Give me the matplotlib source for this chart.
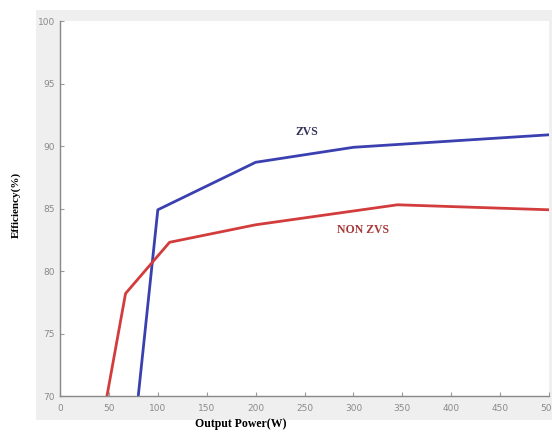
import matplotlib
matplotlib.use("Agg")
import matplotlib.pyplot as plt
from matplotlib.patches import Rectangle

# Datos
potencia_zvs = [80, 100, 200, 300, 400, 500]
eficiencia_zvs = [70, 84.9, 88.7, 89.9, 90.4, 90.9]

potencia_non_zvs = [48, 67, 112, 200, 345, 500]
eficiencia_non_zvs = [70, 78.2, 82.3, 83.7, 85.3, 84.9]

x_ticks = list(range(0, 501, 50))
y_ticks = list(range(70, 101, 5))

fig = plt.figure(figsize=(5.52, 4.36), dpi=100, facecolor="white")

# marco gris tipo ventana de MATLAB
fig.patches.append(Rectangle((0.065, 0.037), 0.935, 0.94, transform=fig.transFigure,
                             facecolor="#efefef", edgecolor="none", zorder=0))

ax = fig.add_axes([0.1087, 0.0917, 0.886, 0.860])
ax.set_zorder(2)
ax.set_facecolor("white")

ax.plot(potencia_zvs, eficiencia_zvs, color="#3b40b0", lw=2)
ax.plot(potencia_non_zvs, eficiencia_non_zvs, color="#d23c3c", lw=2)

ax.text(252, 91.1, "ZVS", color="#33335a", fontsize=8.5, fontweight="bold",
        family="Liberation Serif", ha="center", va="center")
ax.text(310, 83.3, "NON ZVS", color="#a83838", fontsize=8.5, fontweight="bold",
        family="Liberation Serif", ha="center", va="center")

ax.set_xlim(0, 500)
ax.set_ylim(70, 100)
ax.set_xticks(x_ticks)
ax.set_yticks(y_ticks)
ax.tick_params(direction="in", length=3, labelsize=6.5, colors="#999999",
               labelcolor="#8a8a8a")
ax.tick_params(axis="x", pad=6)

for lado in ["top", "right"]:
    ax.spines[lado].set_visible(False)
for lado in ["left", "bottom"]:
    ax.spines[lado].set_color("#888888")
    ax.spines[lado].set_linewidth(1)

ax.set_xlabel("Output Power(W)", fontsize=8.5, fontweight="bold",
              family="Liberation Serif")
ax.xaxis.set_label_coords(0.37, -0.058)
ax.set_ylabel("Efficiency(%)", fontsize=8, fontweight="bold",
              family="Liberation Serif")
ax.yaxis.set_label_coords(-0.081, 0.51)

plt.savefig("out.png", dpi=100, facecolor=fig.get_facecolor())
